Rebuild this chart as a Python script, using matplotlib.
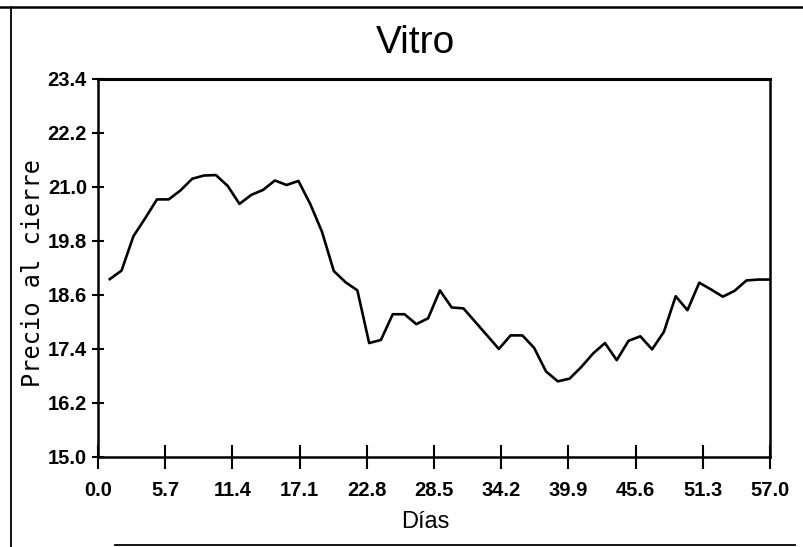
import matplotlib
matplotlib.use("Agg")
import matplotlib.pyplot as plt
from matplotlib.lines import Line2D

days = list(range(1, 58))
prices = [18.95, 19.14, 19.90, 20.30, 20.72, 20.72, 20.92, 21.18, 21.25, 21.26,
          21.02, 20.62, 20.82, 20.93, 21.14, 21.04, 21.13, 20.62, 20.00, 19.13,
          18.88, 18.70, 17.53, 17.60, 18.17, 18.17, 17.95, 18.08, 18.70, 18.32,
          18.30, 18.00, 17.70, 17.40, 17.70, 17.70, 17.42, 16.90, 16.68, 16.74,
          17.00, 17.30, 17.53, 17.15, 17.58, 17.68, 17.39, 17.78, 18.57, 18.26,
          18.87, 18.72, 18.56, 18.69, 18.92, 18.94, 18.94]
xticks = [0.0, 5.7, 11.4, 17.1, 22.8, 28.5, 34.2, 39.9, 45.6, 51.3, 57.0]
yticks = [15.0, 16.2, 17.4, 18.6, 19.8, 21.0, 22.2, 23.4]
title = "Vitro"
xlabel = "Días"
ylabel = "Precio al cierre"

narrow = ["Liberation Sans Narrow", "Liberation Sans", "DejaVu Sans"]

fig = plt.figure(figsize=(8.04, 5.47), dpi=100)
ax = fig.add_axes([98/804, 1 - 457/547, (770-98)/804, (457-78.7)/547])

ax.plot(days, prices, color="black", linewidth=1.9)
ax.set_xlim(0, 57)
ax.set_ylim(15.0, 23.4)
ax.set_xticks(xticks)
ax.set_yticks(yticks)
ax.set_xticklabels([f"{v:.1f}" for v in xticks], family=narrow, fontsize=14.5, fontweight="bold")
ax.set_yticklabels([f"{v:.1f}" for v in yticks], family=narrow, fontsize=14.5, fontweight="bold")
ax.tick_params(axis="x", direction="inout", length=17, width=1.5, pad=9)
ax.tick_params(axis="y", direction="inout", length=8, width=1.5, pad=4)
for s in ax.spines.values():
    s.set_linewidth(1.8)
ax.spines["top"].set_linewidth(2.2)

fig.text(415/804, 1 - 43/547, title, family=narrow, fontsize=28,
         ha="center", va="center")
fig.text(425/804, 1 - 522/547, xlabel, family=narrow, fontsize=17,
         ha="center", va="center")
fig.text(33/804, 1 - 273/547, ylabel, family="DejaVu Sans Mono", fontsize=17,
         rotation=90, ha="center", va="center")

# outer frame of the scanned page
fig.add_artist(Line2D([0, 1], [1 - 7/547, 1 - 7/547], transform=fig.transFigure,
                      color="black", linewidth=1.8))
fig.add_artist(Line2D([11/804, 11/804], [1 - 7/547, 0], transform=fig.transFigure,
                      color="black", linewidth=1.3))
fig.add_artist(Line2D([115/804, 795/804], [1 - 545/547, 1 - 545/547], transform=fig.transFigure,
                      color="black", linewidth=1.3))

fig.savefig("out.png", dpi=100, facecolor="white")
